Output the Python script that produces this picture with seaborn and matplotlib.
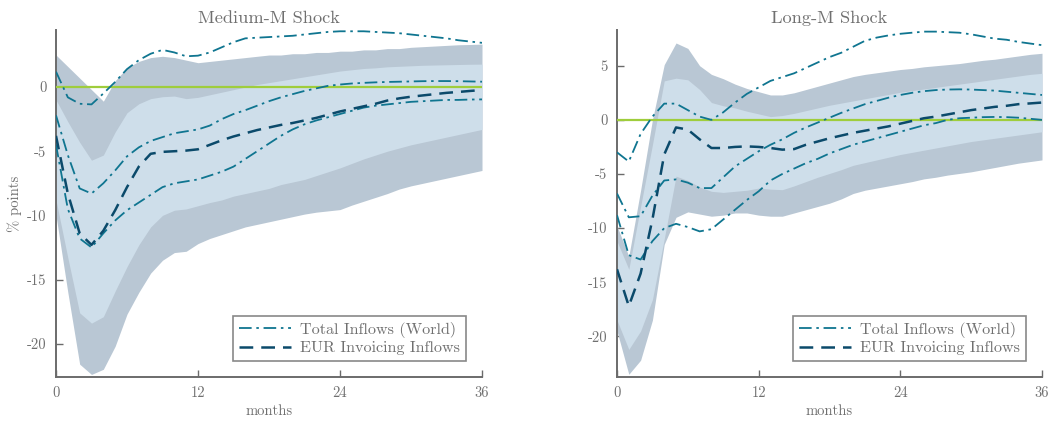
import numpy as np
import pandas as pd
import seaborn as sns
import matplotlib.pyplot as plt
from matplotlib.lines import Line2D

# ---------------------------------------------------------------
# Impulse responses, horizon 0..36 months
# ---------------------------------------------------------------
months = list(range(37))

# Medium-M shock
med_eur = [-3.8, -8.3, -11.4, -12.3, -11.2, -9.6, -7.8, -6.2, -5.2, -5.05, -5.0, -4.95, -4.85,
           -4.5, -4.15, -3.85, -3.6, -3.35, -3.15, -2.95, -2.8, -2.6, -2.4, -2.15, -1.9,
           -1.7, -1.5, -1.3, -1.05, -0.88, -0.75, -0.65, -0.55, -0.45, -0.38, -0.3, -0.23]
med_in_hi = [-1.0, -2.7, -4.3, -5.7, -5.3, -3.5, -2.0, -1.3, -0.9, -0.75, -0.7, -0.9, -0.8,
             -0.6, -0.4, -0.2, 0.0, 0.2, 0.35, 0.5, 0.65, 0.8, 0.95, 1.1, 1.25,
             1.35, 1.45, 1.5, 1.58, 1.62, 1.66, 1.7, 1.72, 1.74, 1.76, 1.78, 1.79]
med_in_lo = [-8.8, -13.3, -17.6, -18.4, -17.9, -15.9, -14.0, -12.3, -10.9, -10.0, -9.6, -9.5, -9.25,
             -9.0, -8.8, -8.5, -8.3, -8.1, -7.9, -7.6, -7.4, -7.2, -6.9, -6.6, -6.3,
             -5.95, -5.6, -5.3, -5.0, -4.75, -4.5, -4.3, -4.1, -3.9, -3.7, -3.5, -3.3]
med_out_hi = [2.5, 1.6, 0.7, -0.2, -1.1, 0.5, 1.5, 2.0, 2.3, 2.4, 2.3, 2.1, 1.9,
              2.0, 2.1, 2.2, 2.3, 2.4, 2.5, 2.5, 2.6, 2.6, 2.7, 2.7, 2.8,
              2.8, 2.9, 2.9, 3.0, 3.0, 3.1, 3.15, 3.2, 3.25, 3.3, 3.32, 3.35]
med_out_lo = [-10.0, -16.0, -21.6, -22.4, -22.0, -20.2, -17.7, -16.0, -14.5, -13.5, -12.9, -12.8, -12.2,
              -11.8, -11.5, -11.2, -10.9, -10.7, -10.5, -10.3, -10.1, -9.9, -9.75, -9.65, -9.55,
              -9.2, -8.9, -8.6, -8.3, -7.95, -7.7, -7.5, -7.3, -7.1, -6.9, -6.7, -6.5]
med_tot = [-2.2, -5.3, -7.9, -8.3, -7.5, -6.5, -5.4, -4.7, -4.2, -3.9, -3.6, -3.45, -3.3,
           -3.0, -2.5, -2.1, -1.8, -1.45, -1.1, -0.8, -0.55, -0.3, -0.1, 0.1, 0.2,
           0.28, 0.33, 0.37, 0.4, 0.42, 0.44, 0.46, 0.47, 0.47, 0.46, 0.44, 0.42]
med_tot_hi = [1.2, -0.8, -1.3, -1.35, -0.5, 0.4, 1.4, 2.1, 2.6, 2.9, 2.7, 2.4, 2.45,
              2.7, 3.1, 3.5, 3.8, 3.85, 3.9, 3.95, 4.0, 4.1, 4.2, 4.3, 4.35,
              4.35, 4.35, 4.3, 4.25, 4.2, 4.1, 4.0, 3.9, 3.8, 3.65, 3.55, 3.45]
med_tot_lo = [-4.5, -9.5, -11.8, -12.5, -11.4, -10.4, -9.6, -9.0, -8.4, -7.8, -7.5, -7.35, -7.2,
              -6.9, -6.6, -6.2, -5.6, -5.0, -4.4, -3.8, -3.3, -2.9, -2.6, -2.35, -2.1,
              -1.85, -1.6, -1.45, -1.35, -1.25, -1.15, -1.1, -1.05, -1.0, -1.0, -0.97, -0.96]

# Long-M shock
long_eur = [-13.8, -17.2, -14.2, -9.2, -3.2, -0.7, -0.9, -1.8, -2.6, -2.6, -2.5, -2.45, -2.5,
            -2.6, -2.75, -2.7, -2.3, -2.0, -1.7, -1.45, -1.2, -1.0, -0.8, -0.6, -0.35,
            -0.1, 0.15, 0.3, 0.5, 0.7, 0.9, 1.05, 1.2, 1.3, 1.45, 1.52, 1.6]
long_in_hi = [-11.2, -13.8, -8.0, -2.3, 3.6, 3.85, 3.7, 2.8, 1.6, 1.3, 1.1, 0.8, 0.55,
              0.3, 0.4, 0.6, 0.85, 1.1, 1.35, 1.55, 1.75, 1.95, 2.15, 2.35, 2.55,
              2.7, 2.85, 3.0, 3.15, 3.3, 3.45, 3.6, 3.75, 3.9, 4.05, 4.2, 4.3]
long_in_lo = [-18.5, -21.2, -19.5, -16.6, -11.0, -5.2, -5.6, -6.2, -6.6, -6.7, -6.6, -6.5, -6.3,
              -6.4, -6.45, -6.1, -5.7, -5.3, -4.95, -4.6, -4.2, -3.95, -3.7, -3.45, -3.2,
              -3.0, -2.8, -2.6, -2.4, -2.2, -2.0, -1.85, -1.7, -1.55, -1.4, -1.25, -1.1]
long_out_hi = [-9.8, -12.6, -6.5, 0.0, 5.1, 7.1, 6.6, 5.0, 4.2, 3.8, 3.3, 2.9, 2.6,
               2.3, 2.3, 2.5, 2.8, 3.1, 3.4, 3.7, 4.0, 4.2, 4.35, 4.5, 4.65,
               4.75, 4.9, 5.0, 5.1, 5.2, 5.35, 5.5, 5.6, 5.75, 5.9, 6.05, 6.15]
long_out_lo = [-19.5, -23.5, -22.2, -18.5, -11.5, -9.0, -8.5, -8.7, -8.9, -8.8, -8.6, -8.6, -8.8,
               -8.9, -8.9, -8.6, -8.3, -8.0, -7.7, -7.3, -6.8, -6.5, -6.3, -6.1, -5.9,
               -5.7, -5.45, -5.3, -5.1, -4.95, -4.8, -4.6, -4.4, -4.2, -4.0, -3.85, -3.7]
long_tot = [-6.8, -9.0, -8.9, -7.0, -5.6, -5.5, -5.8, -6.3, -6.3, -5.3, -4.3, -3.6, -2.9,
            -2.3, -1.8, -1.2, -0.7, -0.25, 0.2, 0.65, 1.05, 1.45, 1.75, 2.05, 2.3,
            2.5, 2.65, 2.75, 2.8, 2.82, 2.8, 2.75, 2.7, 2.6, 2.5, 2.4, 2.3]
long_tot_hi = [-3.0, -3.85, -1.3, 0.3, 1.5, 1.5, 0.9, 0.3, 0.0, 0.7, 1.6, 2.4, 3.0,
               3.6, 3.95, 4.3, 4.8, 5.3, 5.8, 6.2, 6.75, 7.3, 7.6, 7.8, 7.95,
               8.05, 8.15, 8.15, 8.1, 8.05, 7.9, 7.7, 7.5, 7.4, 7.2, 7.05, 6.9]
long_tot_lo = [-8.8, -12.5, -12.9, -11.2, -10.0, -9.6, -9.9, -10.3, -10.1, -9.2, -8.3, -7.4, -6.6,
               -5.6, -5.0, -4.5, -4.0, -3.6, -3.1, -2.7, -2.3, -2.0, -1.7, -1.4, -1.1,
               -0.8, -0.5, -0.3, 0.0, 0.15, 0.2, 0.25, 0.27, 0.25, 0.2, 0.1, 0.0]

titles = ["Medium-M Shock", "Long-M Shock"]
legend_labels = ["Total Inflows (World)", "EUR Invoicing Inflows"]
x_ticks = [0, 12, 24, 36]
y_ticks = [[0, -5, -10, -15, -20], [5, 0, -5, -10, -15, -20]]
y_limits = [(-22.6, 4.45), (-23.75, 8.3)]

# ---------------------------------------------------------------
# Style
# ---------------------------------------------------------------
sns.set_theme(style="white")
plt.rcParams["font.family"] = ["cmr10", "DejaVu Serif"]
plt.rcParams["mathtext.fontset"] = "cm"
plt.rcParams["axes.unicode_minus"] = False
plt.rcParams["axes.formatter.use_mathtext"] = True

GREY = "#6b6b6b"
TXT = "#707070"
OUTER = "#b9c7d4"
INNER = "#cedeea"
TEAL = "#0f7590"
NAVY = "#0b4a6b"
ZERO = "#9fcd3c"
DASHDOT = (0, (7, 2.6, 1.4, 2.6))
DASHED = (0, (5.5, 3.2))

fig = plt.figure(figsize=(10.52, 4.21), dpi=100)
ax1 = fig.add_axes([56 / 1052, 1 - 377 / 421, (482 - 56) / 1052, (377 - 30) / 421])
ax2 = fig.add_axes([617 / 1052, 1 - 377 / 421, (1042 - 617) / 1052, (377 - 30) / 421])

panels = [
    (ax1, med_eur, med_in_hi, med_in_lo, med_out_hi, med_out_lo, med_tot, med_tot_hi, med_tot_lo),
    (ax2, long_eur, long_in_hi, long_in_lo, long_out_hi, long_out_lo, long_tot, long_tot_hi, long_tot_lo),
]

for i, (ax, eur, in_hi, in_lo, out_hi, out_lo, tot, tot_hi, tot_lo) in enumerate(panels):
    df = pd.DataFrame({
        "months": months, "eur": eur, "in_hi": in_hi, "in_lo": in_lo,
        "out_hi": out_hi, "out_lo": out_lo, "tot": tot, "tot_hi": tot_hi, "tot_lo": tot_lo,
    })

    # confidence bands for EUR invoicing inflows
    ax.fill_between(df["months"], df["out_lo"], df["out_hi"], color=OUTER, lw=0, zorder=1)
    ax.fill_between(df["months"], df["in_lo"], df["in_hi"], color=INNER, lw=0, zorder=2)

    ax.axhline(0, xmin=0, xmax=1, color=ZERO, lw=1.6, zorder=3)

    for col in ["tot_hi", "tot_lo", "tot"]:
        sns.lineplot(data=df, x="months", y=col, ax=ax, color=TEAL, lw=1.3,
                     linestyle=DASHDOT, zorder=4)
    sns.lineplot(data=df, x="months", y="eur", ax=ax, color=NAVY, lw=1.8,
                 linestyle=DASHED, zorder=5)

    ax.set_xlim(0, 36)
    ax.set_ylim(*y_limits[i])
    ax.set_xticks(x_ticks)
    ax.set_xticklabels([str(t) for t in x_ticks])
    ax.set_yticks(y_ticks[i])
    ax.set_yticklabels([str(t) for t in y_ticks[i]])
    ax.tick_params(direction="in", length=5, width=1.0, color=GREY, labelcolor=TXT,
                   labelsize=10.5, pad=7, bottom=True, left=True)
    for side in ["top", "right"]:
        ax.spines[side].set_visible(False)
    for side in ["left", "bottom"]:
        ax.spines[side].set_color(GREY)
        ax.spines[side].set_linewidth(1.4)

    ax.set_title(titles[i], color=TXT, fontsize=13.2, pad=5)
    ax.set_xlabel("months", color=TXT, fontsize=10.5, labelpad=3)
    if i == 0:
        ax.set_ylabel("% points", color=TXT, fontsize=10.5, labelpad=3)
    else:
        ax.set_ylabel("")

    handles = [
        Line2D([], [], color=TEAL, lw=1.3, linestyle=DASHDOT),
        Line2D([], [], color=NAVY, lw=1.8, linestyle=DASHED),
    ]
    leg = ax.legend(handles, legend_labels, loc="lower right", bbox_to_anchor=(0.962, 0.046),
                    borderaxespad=0, frameon=True, fancybox=False, fontsize=11.6,
                    handlelength=3.2, handletextpad=0.6, borderpad=0.35, labelspacing=0.2)
    leg.get_frame().set_edgecolor(GREY)
    leg.get_frame().set_linewidth(1.2)
    for t in leg.get_texts():
        t.set_color(TXT)

fig.savefig("out.png", dpi=100, facecolor="white")
